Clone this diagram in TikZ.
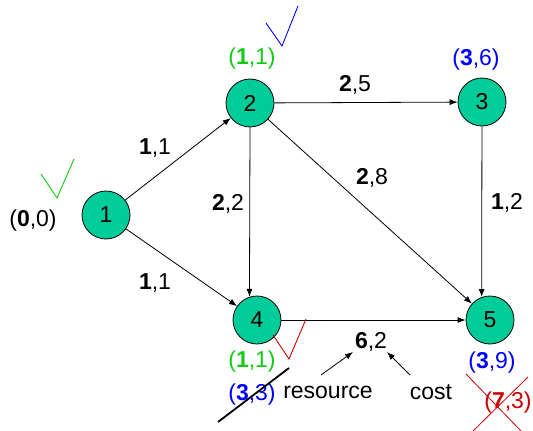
\documentclass[tikz,border=0pt]{standalone}
\usepackage{fontspec}
\setmainfont{Liberation Sans}
\usetikzlibrary{arrows.meta}
\definecolor{nodefill}{RGB}{0,204,153}
\definecolor{mygreen}{RGB}{20,204,20}
\definecolor{myblue}{RGB}{0,0,255}
\definecolor{myred}{RGB}{204,0,0}
\begin{document}
\begin{tikzpicture}[x=1pt,y=-1pt,
  vertex/.style={circle,draw=black,line width=0.8pt,fill=nodefill,minimum size=48pt,inner sep=0pt,font=\fontsize{23}{27}\selectfont},
  lbl/.style={inner sep=0pt,font=\fontsize{23}{27}\selectfont},
  edge/.style={draw=black,line width=0.8pt,-{Latex[length=8pt,width=6pt]}},
  tick/.style={line width=0.9pt},
  pointer/.style={draw=black,line width=0.8pt,-{Latex[length=8pt,width=6pt]}}
]
\useasboundingbox (0,0) rectangle (533,431);
% nodes
\node[vertex] (n1) at (106,215) {1};
\node[vertex] (n2) at (250,103) {2};
\node[vertex] (n3) at (482,102) {3};
\node[vertex] (n4) at (257,320) {4};
\node[vertex] (n5) at (490,320) {5};
% edges
\draw[edge] (n1) -- (n2);
\draw[edge] (n1) -- (n4);
\draw[edge] (n2) -- (n3);
\draw[edge] (n2.south) -- (n4.108);
\draw[edge] (n2) -- (n5);
\draw[edge] (n3) -- (n5.110);
\draw[edge] (n4) -- (n5);
% edge labels
\node[lbl] (l12) at (155,148) {\textbf{1},1};
\node[lbl] (l14) at (155,283) {\textbf{1},1};
\node[lbl] (l23) at (355,85) {\textbf{2},5};
\node[lbl] (l24) at (228,204) {\textbf{2},2};
\node[lbl] (l25) at (372,178) {\textbf{2},8};
\node[lbl] (l35) at (507,203) {\textbf{1},2};
\node[lbl] (l45) at (371,342) {\textbf{6},2};
% node labels
\node[lbl] (s1) at (33,221) {(\textbf{0},0)};
\node[lbl,text=mygreen] (s2) at (252,59) {(\textbf{1},1)};
\node[lbl,text=myblue] (s3) at (476,60) {(\textbf{3},6)};
\node[lbl,text=mygreen] (s4a) at (252,362) {(\textbf{1},1)};
\node[lbl,text=myblue] (s4b) at (252,395) {(\textbf{3},3)};
\node[lbl,text=myblue] (s5a) at (492,363) {(\textbf{3},9)};
\node[lbl,text=myred] (s5b) at (508,403) {(\textbf{7},3)};
% legend
\node[lbl] (res) at (328,392) {resource};
\node[lbl] (cost) at (431,392) {cost};
\coordinate (resA) at (321,375);
\coordinate (resB) at (353,352);
\coordinate (costA) at (410,375);
\coordinate (costB) at (387,352);
\draw[pointer] (resA) -- (resB);
\draw[pointer] (costA) -- (costB);
% checks
\draw[tick,draw=mygreen] (41,174) -- (57,198) -- (74,159);
\draw[tick,draw=myblue] (266,23) -- (282,46) -- (298,6);
\draw[tick,draw=myred] (273,335) -- (289,359) -- (306,319);
% strike-outs
\draw[line width=1.8pt,black] (218,422) -- (289,368);
\draw[line width=0.8pt,myred] (466,374) -- (521,431);
\draw[line width=0.8pt,myred] (528,377) -- (473,431);
\end{tikzpicture}
\end{document}
